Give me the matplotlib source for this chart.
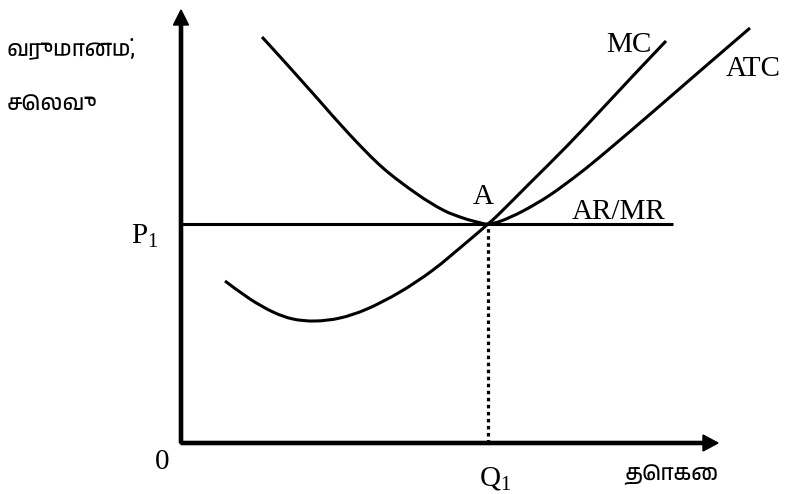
import matplotlib
matplotlib.use("Agg")
import matplotlib.pyplot as plt
from matplotlib import font_manager
from matplotlib.path import Path
from matplotlib.patches import PathPatch

# units: pixels measured from the origin of the diagram (q to the right, cost upward)
mc_q = [44, 69, 92, 112, 134, 159, 186, 219, 252, 286, 307, 319, 349, 386, 421, 449, 485]
mc_c = [162, 144, 131, 124, 122, 125, 134, 151, 173, 201, 219, 230, 260, 297, 334, 364, 402]

atc_q = [81, 102, 136, 169, 202, 236, 262, 282, 298, 307, 320, 342, 369, 399, 426, 474, 519, 569]
atc_c = [406, 383, 345, 308, 275, 249, 233, 225, 220.5, 219, 222, 232, 248, 270, 292, 333, 372, 415]

p1 = 219
q1 = 307
armr_end = 492
x_axis_end = 537
y_axis_end = 433

y_label = ["வருமானம்,", "செலவு"]
x_label = "தொகை"


def smooth_path(xs, ys):
    # smooth curve through the read points (cubic Bezier segments drawn by matplotlib)
    pts = list(zip(xs, ys))
    verts = [pts[0]]
    codes = [Path.MOVETO]
    n = len(pts)
    for i in range(n - 1):
        p0 = pts[max(i - 1, 0)]
        p1_ = pts[i]
        p2 = pts[i + 1]
        p3 = pts[min(i + 2, n - 1)]
        c1 = (p1_[0] + (p2[0] - p0[0]) / 6, p1_[1] + (p2[1] - p0[1]) / 6)
        c2 = (p2[0] - (p3[0] - p1_[0]) / 6, p2[1] - (p3[1] - p1_[1]) / 6)
        verts += [c1, c2, p2]
        codes += [Path.CURVE4] * 3
    return Path(verts, codes)


plt.rcParams["font.family"] = "Liberation Serif"
tamil_fonts = sorted({f.name for f in font_manager.fontManager.ttflist if "Tamil" in f.name})
tamil_family = tamil_fonts + ["DejaVu Sans"]

fig = plt.figure(figsize=(7.89, 4.94), dpi=100)
ax = fig.add_axes([0, 0, 1, 1])
ax.set_xlim(-181, 608)
ax.set_ylim(-51, 443)
ax.axis("off")

lw = 2.2
# axes with arrow heads
ax.arrow(0, 0, x_axis_end, 0, width=3.2, head_width=16, head_length=15,
         length_includes_head=True, color="black")
ax.arrow(0, 0, 0, y_axis_end, width=3.2, head_width=15, head_length=15,
         length_includes_head=True, color="black")

# AR/MR line
ax.plot([0, armr_end], [p1, p1], color="black", lw=lw, solid_capstyle="butt")
# dotted drop line at Q1
ax.plot([q1, q1], [0, p1], color="black", lw=2.3, linestyle=(0, (1.1, 1.1)),
        dash_capstyle="butt")

for xs, ys in [(mc_q, mc_c), (atc_q, atc_c)]:
    ax.add_patch(PathPatch(smooth_path(xs, ys), facecolor="none", edgecolor="black",
                           lw=lw, capstyle="butt", joinstyle="round"))

fs = 21
ax.text(448, 398, "MC", fontsize=fs, ha="center", va="center")
ax.text(572, 374, "ATC", fontsize=fs, ha="center", va="center")
ax.text(302, 246, "A", fontsize=fs, ha="center", va="center")
ax.text(438, 231, "AR/MR", fontsize=fs, ha="center", va="center")
ax.text(-36, 207, r"P$_{\mathregular{1}}$", fontsize=fs, ha="center", va="center")
ax.text(-19, -19, "0", fontsize=fs, ha="center", va="center")
ax.text(314, -36, r"Q$_{\mathregular{1}}$", fontsize=fs, ha="center", va="center")

ax.text(-174, 394, y_label[0], fontsize=16, ha="left", va="center", family=tamil_family)
ax.text(-174, 338, y_label[1], fontsize=16, ha="left", va="center", family=tamil_family)
ax.text(490, -32, x_label, fontsize=16, ha="center", va="center", family=tamil_family)

fig.savefig("out.png", dpi=100)
